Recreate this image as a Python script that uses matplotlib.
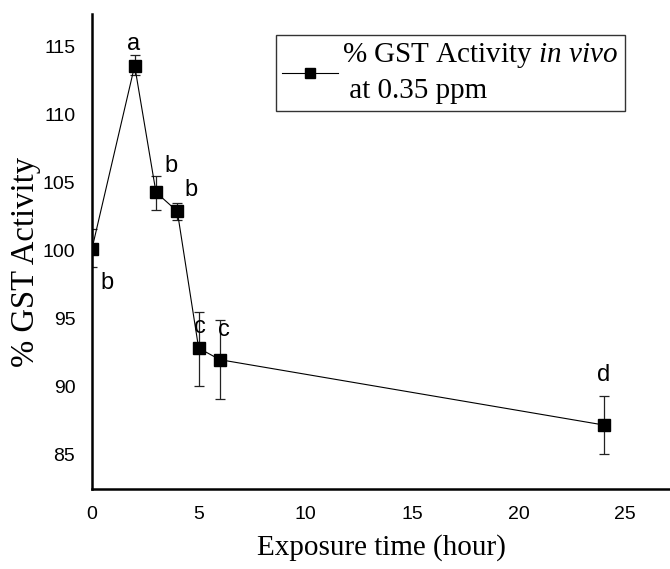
import numpy as np
import matplotlib.pyplot as plt

plt.rcParams["mathtext.fontset"] = "custom"
plt.rcParams["mathtext.rm"] = "Liberation Serif"
plt.rcParams["mathtext.it"] = "Liberation Serif:italic"

# data
hours = [0, 2, 3, 4, 5, 6, 24]
activity = [100.15, 113.6, 104.3, 102.9, 92.85, 92.0, 87.2]
err_up = [1.45, 0.8, 1.2, 0.6, 2.65, 2.9, 2.15]
err_down = [1.35, 0.7, 1.3, 0.6, 2.8, 2.9, 2.15]
letters = ["b", "a", "b", "b", "c", "c", "d"]
letter_x = [0.7, 1.95, 3.7, 4.65, 5.05, 6.2, 24.0]
letter_y = [97.6, 115.2, 106.2, 104.5, 94.4, 94.2, 90.9]

fig = plt.figure(figsize=(6.7, 5.69), dpi=100)
ax = fig.add_axes([0.1373, 0.1406, 0.8627, 0.8348])

ax.errorbar(hours, activity, yerr=[err_down, err_up], fmt="none",
            ecolor="#222222", elinewidth=0.9, capsize=3.5, capthick=0.9, zorder=2)
ax.plot(hours, activity, color="black", lw=0.8, marker="s", markersize=9,
        markerfacecolor="black", markeredgecolor="black", zorder=3,
        label="% GST Activity $\\mathit{in\\ vivo}$\n at 0.35 ppm")

for lx, ly, t in zip(letter_x, letter_y, letters):
    ax.text(lx, ly, t, fontsize=17, ha="center", va="center",
            family="Liberation Sans")

ax.set_xlim(0, 27.1)
ax.set_ylim(82.5, 117.4)
ax.set_xticks([0, 5, 10, 15, 20, 25])
ax.set_yticks([85, 90, 95, 100, 105, 110, 115])
ax.tick_params(length=0, labelsize=14)
ax.tick_params(axis="y", pad=12)
ax.tick_params(axis="x", pad=12)
for lab in ax.get_xticklabels() + ax.get_yticklabels():
    lab.set_family("Liberation Sans")

ax.spines["top"].set_visible(False)
ax.spines["right"].set_visible(False)
ax.spines["left"].set_linewidth(1.8)
ax.spines["bottom"].set_linewidth(1.8)

ax.set_xlabel("Exposure time (hour)", family="Liberation Serif", fontsize=21, labelpad=8)
ax.set_ylabel("% GST Activity", family="Liberation Serif", fontsize=23.5)
ax.yaxis.label.set_va("center")
ax.yaxis.set_label_coords(-0.114, 0.478)

leg = ax.legend(loc="upper left", bbox_to_anchor=(276 / 670, 1 - 35 / 569),
                bbox_transform=fig.transFigure, frameon=True, fancybox=False,
                edgecolor="black", handlelength=1.9, handletextpad=0.15,
                borderpad=0.22, borderaxespad=0,
                prop={"family": "Liberation Serif", "size": 21})
leg.get_frame().set_linewidth(1.0)
leg.get_lines()[0].set_markersize(7)
leg.get_texts()[0].set_linespacing(1.4)

fig.savefig("out.png", dpi=100)
